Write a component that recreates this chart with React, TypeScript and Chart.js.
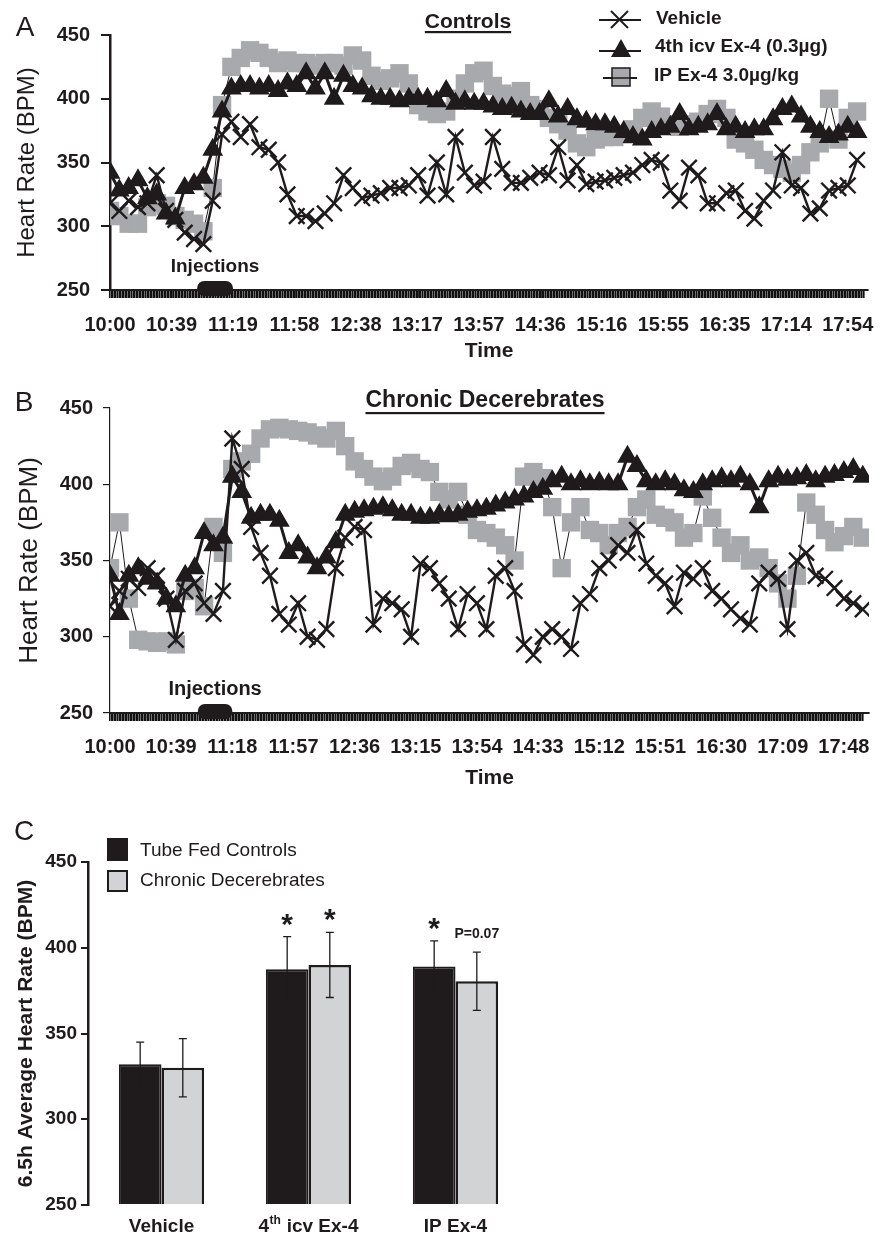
import { useEffect, useRef } from 'react';
import { Chart, registerables } from 'chart.js';

Chart.register(...registerables);

const FONT = "'Liberation Sans', Arial, Helvetica, sans-serif";
const INK = '#1f1b1c';
const GRAY = '#a7a9ac';
const LIGHT = '#d1d3d4';

Chart.defaults.font.family = FONT;
Chart.defaults.color = INK;

// ---------- Panels A & B: minutes after 10:00 ----------
const MINUTES = [
  0, 6, 12, 18, 24, 30, 36, 42, 48, 54,
  60, 66, 72, 78, 84, 90, 96, 102, 108, 114,
  120, 126, 132, 138, 144, 150, 156, 162, 168, 174,
  180, 186, 192, 198, 204, 210, 216, 222, 228, 234,
  240, 246, 252, 258, 264, 270, 276, 282, 288, 294,
  300, 306, 312, 318, 324, 330, 336, 342, 348, 354,
  360, 366, 372, 378, 384, 390, 396, 402, 408, 414,
  420, 426, 432, 438, 444, 450, 456, 462, 468, 474,
  480,
];

const SERIES_NAMES = ['Vehicle', '4th icv Ex-4 (0.3µg)', 'IP Ex-4 3.0µg/kg'];

const A_VEHICLE = [
  318, 312, 320, 315, 318, 340, 312, 305, 295, 290,
  286, 320, 372, 382, 370, 380, 362, 360, 350, 325,
  308, 308, 304, 310, 318, 340, 330, 322, 324, 326,
  330, 330, 332, 340, 324, 350, 325, 370, 342, 332,
  335, 370, 345, 334, 334, 338, 342, 340, 362, 336,
  348, 333, 335, 336, 338, 340, 342, 348, 352, 350,
  328, 320, 346, 340, 318, 318, 326, 328, 312, 306,
  320, 328, 358, 332, 330, 310, 314, 328, 330, 332,
  352,
];
const A_ICV = [
  342, 328, 330, 336, 322, 325, 310, 306, 330, 333,
  338, 360, 390, 408, 410, 410, 408, 410, 406, 412,
  410, 420, 408, 420, 400, 418, 410, 408, 402, 400,
  400, 398, 400, 400, 400, 398, 406, 396, 398, 396,
  396, 394, 392, 393, 390, 388, 388, 398, 386, 392,
  384, 382, 380, 380, 378, 374, 370, 368, 374, 376,
  378, 388, 376, 378, 380, 388, 376, 378, 374, 376,
  376, 384, 392, 394, 386, 378, 374, 370, 372, 378,
  374,
];
const A_IP = [
  312, 308, 302, 302, 315, 318, 316, 308, 305, 302,
  296, 330, 395, 425, 432, 438, 436, 432, 428, 430,
  428, 428, 426, 428, 428, 426, 434, 430, 418, 414,
  416, 420, 412, 395, 390, 388, 390, 400, 412, 420,
  422, 410, 404, 402, 406, 395, 392, 385, 380, 375,
  365, 362, 368, 370, 370, 372, 376, 385, 390, 386,
  380, 378, 380, 382, 388, 392, 385, 368, 365, 360,
  352, 348, 345, 342, 348, 358, 365, 400, 368, 385,
  390,
];

const B_VEHICLE = [
  320, 330, 338, 332, 345, 340, 325, 298, 330, 335,
  322, 315, 330, 430, 410, 372, 355, 340, 315, 308,
  322, 300, 298, 305, 345, 365, 372, 370, 308, 325,
  322, 318, 300, 348, 345, 335, 325, 305, 328, 322,
  305, 340, 345, 330, 295, 288, 300, 305, 300, 292,
  322, 328, 345, 350, 360, 355, 370, 348, 340, 335,
  320, 342, 338, 345, 330, 325, 318, 312, 308, 335,
  342, 338, 305, 350, 355, 340, 338, 332, 325, 322,
  318,
];
const B_ICV = [
  340, 315, 340, 345, 338, 335, 325, 320, 340, 345,
  368, 360, 365, 405, 395, 378, 380, 380, 376, 355,
  360, 352, 345, 352, 362, 380, 382, 383, 384, 385,
  383, 380, 380, 378, 378, 380, 379, 380, 382, 383,
  384, 386, 388, 390, 392, 395, 397, 402, 405, 400,
  402, 400, 401, 400, 400, 418, 412, 402, 400, 402,
  400, 396, 395, 400, 402, 404, 402, 405, 400, 385,
  402, 405, 403, 404, 406, 402, 405, 406, 408, 410,
  405,
];
const B_IP = [
  345, 375, 325, 298, 297, 296, 297, 295, 330, 332,
  320, 372, 355, 410, 415, 420, 430, 436, 437, 436,
  435, 434, 432, 430, 435, 425, 415, 410, 405, 402,
  405, 412, 414, 410, 408, 395, 390, 395, 380, 370,
  368, 365, 360, 350, 405, 408, 404, 385, 345, 375,
  385, 370, 368, 360, 368, 372, 385, 390, 380, 378,
  375, 365, 368, 392, 378, 365, 355, 360, 350, 352,
  345, 335, 325, 340, 388, 380, 370, 362, 366, 372,
  365,
];

const A_TICK_LABELS = ['10:00', '10:39', '11:19', '11:58', '12:38', '13:17', '13:57', '14:36', '15:16', '15:55', '16:35', '17:14', '17:54'];
const A_TICK_MINUTES = [0, 39.5, 79, 118.5, 158, 197.5, 237, 276.5, 316, 355.5, 395, 434.5, 474];
const B_TICK_LABELS = ['10:00', '10:39', '11:18', '11:57', '12:36', '13:15', '13:54', '14:33', '15:12', '15:51', '16:30', '17:09', '17:48'];
const B_TICK_MINUTES = [0, 39, 78, 117, 156, 195, 234, 273, 312, 351, 390, 429, 468];

const INJECTION_A = [56, 79];
const INJECTION_B = [56, 78];

// ---------- Panel C ----------
const CATEGORIES = ['Vehicle', '4th icv Ex-4', 'IP Ex-4'];
const GROUPS = ['Tube Fed Controls', 'Chronic Decerebrates'];
const CONTROLS_MEAN = [332, 387.5, 389];
const CONTROLS_SEM = [13, 19, 15];
const DECEREBRATE_MEAN = [330, 390, 380.5];
const DECEREBRATE_SEM = [17, 19, 17];
const CONTROLS_MARK = ['', '*', '*'];
const DECEREBRATE_MARK = ['', '*', 'P=0.07'];

type PanelCfg = {
  letter: string; letterPos: [number, number];
  title: string; titlePos: [number, number]; titleSize: number; underlineY: number;
  series: number[][];
  tickMinutes: number[]; tickLabels: string[]; lastMinute: number; xMax: number;
  injection: number[]; injFont: number; injOffset: number;
  legend: boolean;
  padTop: number; padRight: number; xHeight: number; xTickPad: number; timePadBottom: number;
  yTitleSize: number; yTitlePad: number; yBorder: number; yTickLength: number; yTickPad: number;
};

const PANEL_A: PanelCfg = {
  letter: 'A', letterPos: [25, 28],
  title: 'Controls', titlePos: [468, 22], titleSize: 21, underlineY: 31,
  series: [A_VEHICLE, A_ICV, A_IP],
  tickMinutes: A_TICK_MINUTES, tickLabels: A_TICK_LABELS, lastMinute: 484, xMax: 487,
  injection: INJECTION_A, injFont: 19, injOffset: 23,
  legend: true,
  padTop: 35, padRight: 26, xHeight: 80, xTickPad: 15, timePadBottom: 6,
  yTitleSize: 24, yTitlePad: 13, yBorder: 2.5, yTickLength: 9, yTickPad: 11,
};

const PANEL_B: PanelCfg = {
  letter: 'B', letterPos: [24, 25],
  title: 'Chronic Decerebrates', titlePos: [485, 23], titleSize: 23, underlineY: 34,
  series: [B_VEHICLE, B_ICV, B_IP],
  tickMinutes: B_TICK_MINUTES, tickLabels: B_TICK_LABELS, lastMinute: 480, xMax: 484,
  injection: INJECTION_B, injFont: 20, injOffset: 24,
  legend: false,
  padTop: 30, padRight: 25, xHeight: 85, xTickPad: 14, timePadBottom: 7,
  yTitleSize: 26, yTitlePad: 14, yBorder: 1.2, yTickLength: 7, yTickPad: 10,
};

function drawLegendA(ctx: CanvasRenderingContext2D) {
  ctx.save();
  ctx.strokeStyle = INK;
  ctx.fillStyle = INK;
  ctx.lineWidth = 2;
  // Vehicle
  ctx.beginPath();
  ctx.moveTo(599, 20); ctx.lineTo(641, 20);
  ctx.moveTo(611, 11); ctx.lineTo(628, 28);
  ctx.moveTo(628, 11); ctx.lineTo(611, 28);
  ctx.stroke();
  // 4th icv
  ctx.beginPath();
  ctx.moveTo(599, 51); ctx.lineTo(641, 51);
  ctx.stroke();
  ctx.beginPath();
  ctx.moveTo(621, 39); ctx.lineTo(631, 57); ctx.lineTo(611, 57); ctx.closePath();
  ctx.fill();
  // IP
  ctx.beginPath();
  ctx.moveTo(603, 78); ctx.lineTo(637, 78);
  ctx.stroke();
  ctx.fillStyle = GRAY;
  ctx.fillRect(612, 68, 18, 18);
  ctx.lineWidth = 1.5;
  ctx.strokeRect(612, 68, 18, 18);
  ctx.beginPath();
  ctx.moveTo(605, 78); ctx.lineTo(636, 78);
  ctx.stroke();
  ctx.fillStyle = INK;
  ctx.font = `bold 19px ${FONT}`;
  ctx.textAlign = 'left';
  ctx.textBaseline = 'middle';
  ctx.fillText(SERIES_NAMES[0], 656, 18.5);
  ctx.fillText(SERIES_NAMES[1], 655, 47);
  ctx.fillText(SERIES_NAMES[2], 654, 76);
  ctx.restore();
}

function makeTimeChart(canvas: HTMLCanvasElement, cfg: PanelCfg) {
  const labelMap = new Map<number, string>();
  cfg.tickMinutes.forEach((m, i) => labelMap.set(m, cfg.tickLabels[i]));
  const [veh, icv, ip] = cfg.series;

  const extras = {
    id: 'timeExtras',
    afterDraw(chart: any) {
      const ctx: CanvasRenderingContext2D = chart.ctx;
      const xs = chart.scales.x;
      const ys = chart.scales.y;
      ctx.save();
      ctx.fillStyle = INK;
      ctx.textAlign = 'center';
      ctx.textBaseline = 'middle';
      ctx.font = `28px ${FONT}`;
      ctx.fillText(cfg.letter, cfg.letterPos[0], cfg.letterPos[1]);
      ctx.font = `bold ${cfg.titleSize}px ${FONT}`;
      ctx.fillText(cfg.title, cfg.titlePos[0], cfg.titlePos[1]);
      const w = ctx.measureText(cfg.title).width;
      ctx.fillRect(cfg.titlePos[0] - w / 2, cfg.underlineY, w, 2.2);
      // injections
      const x0 = xs.getPixelForValue(cfg.injection[0]);
      const x1 = xs.getPixelForValue(cfg.injection[1]);
      const yb = ys.bottom;
      ctx.beginPath();
      (ctx as any).roundRect(x0, yb - 9, x1 - x0, 15, 7);
      ctx.fill();
      ctx.font = `bold ${cfg.injFont}px ${FONT}`;
      ctx.fillText('Injections', (x0 + x1) / 2, yb - cfg.injOffset);
      ctx.restore();
      if (cfg.legend) drawLegendA(ctx);
    },
  };

  return new Chart(canvas, {
    type: 'line',
    data: {
      datasets: [
        {
          label: SERIES_NAMES[0],
          data: MINUTES.map((t, i) => ({ x: t, y: veh[i] })),
          borderColor: INK, borderWidth: 2.4,
          pointStyle: 'crossRot', pointRadius: 11, pointBorderWidth: 2.4,
          pointBorderColor: INK, pointBackgroundColor: INK,
        },
        {
          label: SERIES_NAMES[1],
          data: MINUTES.map((t, i) => ({ x: t, y: icv[i] })),
          borderColor: INK, borderWidth: 3,
          pointStyle: 'triangle', pointRadius: 10.5, pointBorderWidth: 1.5,
          pointBorderColor: INK, pointBackgroundColor: INK,
        },
        {
          label: SERIES_NAMES[2],
          data: MINUTES.map((t, i) => ({ x: t, y: ip[i] })),
          borderColor: INK, borderWidth: 1,
          pointStyle: 'rect', pointRadius: 13, pointBorderWidth: 0,
          pointBorderColor: GRAY, pointBackgroundColor: GRAY,
        },
      ],
    } as any,
    options: {
      responsive: false,
      animation: false,
      layout: { padding: { top: cfg.padTop, right: cfg.padRight, bottom: 0, left: 0 } },
      plugins: { legend: { display: false }, tooltip: { enabled: false } },
      scales: {
        x: {
          type: 'linear',
          min: 0,
          max: cfg.xMax,
          afterBuildTicks: (scale: any) => {
            const vals = new Set<number>();
            for (let m = 0; m <= cfg.lastMinute; m++) vals.add(m);
            cfg.tickMinutes.forEach((v) => vals.add(v));
            scale.ticks = Array.from(vals).sort((a, b) => a - b).map((v) => ({ value: v }));
          },
          afterFit: (scale: any) => { scale.height = cfg.xHeight; },
          ticks: {
            autoSkip: false,
            maxRotation: 0,
            minRotation: 0,
            padding: cfg.xTickPad,
            font: { family: FONT, size: 20, weight: 'bold' },
            color: INK,
            callback: (value: any) => labelMap.get(Number(value)) ?? '',
          },
          grid: { drawOnChartArea: false, drawTicks: true, tickLength: 8, color: '#111', lineWidth: 1.6 },
          border: { display: true, color: INK, width: 2 },
          title: {
            display: true, text: 'Time', color: INK,
            font: { family: FONT, size: 21, weight: 'bold' },
            padding: { top: 0, bottom: cfg.timePadBottom },
          },
        },
        y: {
          min: 250,
          max: 450,
          afterFit: (scale: any) => { scale.width = 110; },
          ticks: {
            stepSize: 50,
            padding: cfg.yTickPad,
            font: { family: FONT, size: 20, weight: 'bold' },
            color: INK,
          },
          grid: { drawOnChartArea: false, tickLength: cfg.yTickLength, color: INK, lineWidth: cfg.yBorder > 2 ? 2 : 1.2 },
          border: { display: true, color: INK, width: cfg.yBorder },
          title: {
            display: true, text: 'Heart Rate (BPM)', color: INK,
            font: { family: FONT, size: cfg.yTitleSize, weight: 'normal' },
            padding: { top: cfg.yTitlePad, bottom: 0 },
          },
        },
      },
    } as any,
    plugins: [extras as any],
  });
}

function makeBarChart(canvas: HTMLCanvasElement) {
  const extras = {
    id: 'barExtras',
    afterDraw(chart: any) {
      const ctx: CanvasRenderingContext2D = chart.ctx;
      const xs = chart.scales.x;
      const ys = chart.scales.y;
      ctx.save();
      ctx.fillStyle = INK;
      ctx.strokeStyle = INK;
      ctx.textAlign = 'center';
      ctx.textBaseline = 'middle';
      ctx.font = `28px ${FONT}`;
      ctx.fillText('C', 24, 34);

      // legend
      ctx.fillStyle = INK;
      ctx.fillRect(107, 40, 21, 23);
      ctx.fillStyle = LIGHT;
      ctx.fillRect(107, 72, 21, 22);
      ctx.lineWidth = 2;
      ctx.strokeRect(108, 73, 19, 20);
      ctx.fillStyle = INK;
      ctx.textAlign = 'left';
      ctx.font = `19px ${FONT}`;
      ctx.fillText(GROUPS[0], 140, 53);
      ctx.fillText(GROUPS[1], 140, 83);

      // error bars and marks
      const means = [CONTROLS_MEAN, DECEREBRATE_MEAN];
      const sems = [CONTROLS_SEM, DECEREBRATE_SEM];
      const marks = [CONTROLS_MARK, DECEREBRATE_MARK];
      for (let d = 0; d < 2; d++) {
        const meta = chart.getDatasetMeta(d);
        meta.data.forEach((bar: any, i: number) => {
          const top = ys.getPixelForValue(means[d][i] + sems[d][i]);
          const bot = ys.getPixelForValue(means[d][i] - sems[d][i]);
          ctx.strokeStyle = INK;
          ctx.lineWidth = 1.3;
          ctx.beginPath();
          ctx.moveTo(bar.x, top); ctx.lineTo(bar.x, bot);
          ctx.moveTo(bar.x - 4, top); ctx.lineTo(bar.x + 4, top);
          ctx.moveTo(bar.x - 4, bot); ctx.lineTo(bar.x + 4, bot);
          ctx.stroke();
          const m = marks[d][i];
          if (m) {
            ctx.fillStyle = INK;
            ctx.textAlign = 'center';
            ctx.textBaseline = 'alphabetic';
            if (m === '*') {
              ctx.font = `bold 30px ${FONT}`;
              ctx.fillText(m, bar.x, top - 3);
            } else {
              ctx.font = `bold 14px ${FONT}`;
              ctx.fillText(m, bar.x, top - 14);
            }
          }
        });
      }

      // category labels (with superscript ordinal)
      ctx.fillStyle = INK;
      ctx.textBaseline = 'middle';
      const ly = xs.top + 22;
      CATEGORIES.forEach((cat, i) => {
        const cx = xs.getPixelForValue(i);
        const m = cat.match(/^(\d+)(st|nd|rd|th)(.*)$/);
        const big = `bold 19px ${FONT}`;
        const small = `bold 12px ${FONT}`;
        if (m) {
          ctx.font = big; const w1 = ctx.measureText(m[1]).width; const w3 = ctx.measureText(m[3]).width;
          ctx.font = small; const w2 = ctx.measureText(m[2]).width + 1;
          let x = cx - (w1 + w2 + w3) / 2;
          ctx.textAlign = 'left';
          ctx.font = big; ctx.fillText(m[1], x, ly); x += w1;
          ctx.font = small; ctx.fillText(m[2], x + 0.5, ly - 6); x += w2;
          ctx.font = big; ctx.fillText(m[3], x, ly);
        } else {
          ctx.textAlign = 'center';
          ctx.font = big;
          ctx.fillText(cat, cx, ly);
        }
      });
      ctx.restore();
    },
  };

  return new Chart(canvas, {
    type: 'bar',
    data: {
      labels: CATEGORIES,
      datasets: [
        { label: GROUPS[0], data: CONTROLS_MEAN, backgroundColor: INK, borderColor: INK, borderWidth: 2, base: 250 },
        { label: GROUPS[1], data: DECEREBRATE_MEAN, backgroundColor: LIGHT, borderColor: INK, borderWidth: 2.5, base: 250 },
      ],
    } as any,
    options: {
      responsive: false,
      animation: false,
      layout: { padding: { top: 64, right: 365, bottom: 0, left: 0 } },
      datasets: { bar: { barPercentage: 1, categoryPercentage: 0.58 } },
      plugins: { legend: { display: false }, tooltip: { enabled: false } },
      scales: {
        x: {
          ticks: { display: false },
          grid: { display: false },
          border: { display: false },
          afterFit: (scale: any) => { scale.height = 32; },
        },
        y: {
          min: 250,
          max: 450,
          afterFit: (scale: any) => { scale.width = 88; },
          ticks: { stepSize: 50, padding: 4, font: { family: FONT, size: 19, weight: 'bold' }, color: INK },
          grid: { drawOnChartArea: false, tickLength: 7, color: INK, lineWidth: 2 },
          border: { display: true, color: INK, width: 2.5 },
          title: {
            display: true, text: '6.5h Average Heart Rate (BPM)', color: INK,
            font: { family: FONT, size: 21, weight: 'bold' },
            padding: { top: 14, bottom: 0 },
          },
        },
      },
    } as any,
    plugins: [extras as any],
  });
}

export default function App() {
  const aRef = useRef<HTMLCanvasElement>(null);
  const bRef = useRef<HTMLCanvasElement>(null);
  const cRef = useRef<HTMLCanvasElement>(null);

  useEffect(() => {
    const charts = [
      makeTimeChart(aRef.current as HTMLCanvasElement, PANEL_A),
      makeTimeChart(bRef.current as HTMLCanvasElement, PANEL_B),
      makeBarChart(cRef.current as HTMLCanvasElement),
    ];
    return () => charts.forEach((c) => c.destroy());
  }, []);

  return (
    <div style={{ position: 'absolute', left: 0, top: 0, width: 894, height: 1237, background: '#fff' }}>
      <canvas ref={aRef} width={894} height={370} style={{ position: 'absolute', left: 0, top: 0 }} />
      <canvas ref={bRef} width={894} height={420} style={{ position: 'absolute', left: 0, top: 378 }} />
      <canvas ref={cRef} width={894} height={439} style={{ position: 'absolute', left: 0, top: 798 }} />
    </div>
  );
}
